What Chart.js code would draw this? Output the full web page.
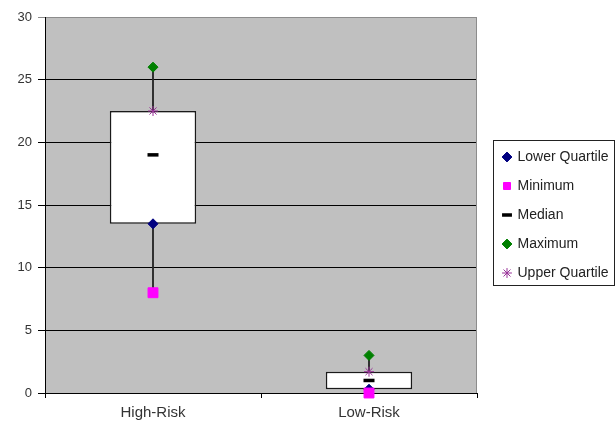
<!DOCTYPE html>
<html>
<head>
<meta charset="utf-8">
<script src="https://cdn.jsdelivr.net/npm/chart.js@4/dist/chart.umd.min.js"></script>
<style>
  html, body { margin: 0; padding: 0; background: #ffffff; }
  #wrap { width: 615px; height: 421px; }
</style>
</head>
<body>
<div id="wrap"><canvas id="c" width="615" height="421"></canvas></div>
<script>
// Risk groups and their five-number summaries
const categories = ['High-Risk', 'Low-Risk'];
const lowerQuartile = [13.5, 0.3];
const minimum = [8, 0];
const median = [19, 1];
const maximum = [26, 3];
const upperQuartile = [22.5, 1.7];
const yTicks = [0, 5, 10, 15, 20, 25, 30];

const FONT = "'Liberation Sans', Arial, sans-serif";
const LEGEND_WIDTH = 126.5;

// Box spans lower to upper quartile; whisker spans minimum to maximum
const boxes = categories.map((_, i) => [lowerQuartile[i], upperQuartile[i]]);
const whiskers = categories.map((_, i) => [minimum[i], maximum[i]]);

const plotBackground = {
  id: 'plotBackground',
  beforeDraw(chart) {
    const { ctx, chartArea: a } = chart;
    ctx.save();
    ctx.fillStyle = '#c0c0c0';
    ctx.fillRect(a.left, a.top, a.right - a.left, a.bottom - a.top);
    ctx.restore();
  },
  afterDatasetsDraw(chart) {
    const { ctx, chartArea: a } = chart;
    ctx.save();
    ctx.strokeStyle = '#8c8c8c';
    ctx.lineWidth = 1;
    ctx.beginPath();
    ctx.moveTo(a.right - 0.5, a.top);
    ctx.lineTo(a.right - 0.5, a.bottom);
    ctx.stroke();
    ctx.restore();
  }
};

// Fixed-width legend column with a framed border around its entries
const legendFrame = {
  id: 'legendFrame',
  beforeLayout(chart) {
    const legend = chart.legend;
    if (legend && !legend._fixedWidth) {
      const fit = legend.fit.bind(legend);
      legend.fit = function () { fit(); this.width = LEGEND_WIDTH; };
      legend._fixedWidth = true;
    }
  },
  afterDraw(chart) {
    const hits = chart.legend && chart.legend.legendHitBoxes;
    if (!hits || !hits.length) return;
    const first = hits[0], last = hits[hits.length - 1];
    const left = Math.min(...hits.map(b => b.left)) - 11;
    const top = first.top - 10;
    const bottom = last.top + last.height + 5;
    const right = chart.width - 1;
    const { ctx } = chart;
    ctx.save();
    ctx.strokeStyle = '#222';
    ctx.lineWidth = 1;
    ctx.strokeRect(Math.round(left) + 0.5, Math.round(top) + 0.5, Math.round(right - left) - 1, Math.round(bottom - top));
    ctx.restore();
  }
};

// Marker series; a lower order value is drawn on top
function pointSet(label, data, style, color, radius, order, extra) {
  return Object.assign({
    type: 'line',
    label,
    data,
    showLine: false,
    clip: false,
    pointStyle: style,
    pointRadius: radius,
    pointHoverRadius: radius,
    backgroundColor: color,
    borderColor: color,
    pointBackgroundColor: color,
    pointBorderColor: color,
    pointBorderWidth: 1,
    borderWidth: 1,
    order
  }, extra || {});
}

// Empty spacer axes that keep the plot area clear of the legend and top edge
const spacer = size => ({
  display: true,
  grid: { display: false },
  border: { display: false },
  ticks: { display: false },
  afterFit(scale) {
    if (scale.isHorizontal()) scale.height = size; else scale.width = size;
  }
});

new Chart(document.getElementById('c'), {
  data: {
    labels: categories,
    datasets: [
      pointSet('Lower Quartile', lowerQuartile, 'rectRot', '#000080', 5, 4),
      pointSet('Minimum', minimum, 'rect', '#ff00ff', 7, 3),
      pointSet('Median', median, 'line', '#000000', 5.5, 2, { pointBorderWidth: 3.5, borderWidth: 2 }),
      pointSet('Maximum', maximum, 'rectRot', '#008000', 5, 1),
      pointSet('Upper Quartile', upperQuartile, 'star', '#993399', 5, 0),
      {
        type: 'bar',
        label: 'box',
        data: boxes,
        backgroundColor: '#ffffff',
        borderColor: '#1a1a1a',
        borderWidth: 1.5,
        borderSkipped: false,
        grouped: false,
        categoryPercentage: 1,
        barPercentage: 0.4,
        order: 5
      },
      {
        type: 'bar',
        label: 'whisker',
        data: whiskers,
        backgroundColor: '#262626',
        borderWidth: 0,
        grouped: false,
        barThickness: 1.2,
        order: 6
      }
    ]
  },
  options: {
    responsive: false,
    animation: false,
    events: [],
    layout: { padding: { top: 9, left: 0, right: 0, bottom: 0 } },
    scales: {
      x: {
        type: 'category',
        offset: true,
        border: { display: true, color: '#000', width: 1 },
        grid: {
          offset: true,
          drawOnChartArea: false,
          drawTicks: true,
          tickLength: 5,
          color: '#000'
        },
        ticks: { color: '#333', font: { family: FONT, size: 15 }, padding: 6 },
        afterFit(scale) { scale.height = 28; }
      },
      y: {
        min: 0,
        max: 30,
        afterBuildTicks(scale) { scale.ticks = yTicks.map(v => ({ value: v })); },
        border: { display: true, color: '#000', width: 1 },
        grid: {
          color: ctx => (ctx.tick && ctx.tick.value === 30 ? '#8c8c8c' : '#000'),
          lineWidth: 1,
          drawTicks: true,
          tickLength: 7
        },
        ticks: { color: '#333', font: { family: FONT, size: 13 }, padding: 6 },
        afterFit(scale) { scale.width = 45; }
      },
      xTop: Object.assign({ type: 'category', axis: 'x', position: 'top' }, spacer(8)),
      yRight: Object.assign({ type: 'linear', axis: 'y', position: 'right' }, spacer(11.5))
    },
    plugins: {
      tooltip: { enabled: false },
      legend: {
        position: 'right',
        labels: {
          usePointStyle: true,
          boxWidth: 7,
          boxHeight: 7,
          padding: 15,
          color: '#222',
          font: { family: FONT, size: 14 },
          sort: (a, b) => a.datasetIndex - b.datasetIndex,
          filter: item => item.text !== 'box' && item.text !== 'whisker'
        }
      }
    }
  },
  plugins: [plotBackground, legendFrame]
});
</script>
</body>
</html>
